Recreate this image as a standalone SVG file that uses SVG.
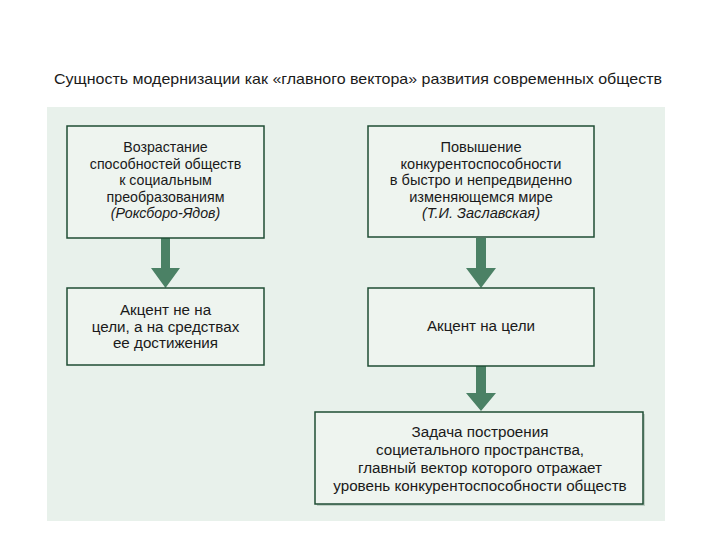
<svg xmlns="http://www.w3.org/2000/svg" width="720" height="540" viewBox="0 0 720 540">
<style>
.t{font-family:"Liberation Sans",Arial,sans-serif;font-size:14.2px;fill:#1a1a1a;text-anchor:middle}
.b2 .t{font-size:14.6px}
.b3 .t{font-size:15.2px}
.i{font-style:italic}
.box{fill:#eef4ef;stroke:#1f4d35;stroke-width:1.5}
.arr{fill:#4b8165}
</style>
<rect width="720" height="540" fill="#ffffff"/>
<text x="358" y="84" font-family="Liberation Sans,Arial,sans-serif" font-size="14.5" fill="#1a1a1a" text-anchor="middle" textLength="608" lengthAdjust="spacingAndGlyphs">Сущность модернизации как «главного вектора» развития современных обществ</text>
<rect x="47" y="107" width="618" height="414" fill="#e8f1eb"/>
<g id="connectors">
<path class="arr" d="M161,238 H170 V268 H180 L165.5,288 L151,268 H161 Z"/>
<path class="arr" d="M476,238 H486 V268 H496 L481,288 L466,268 H476 Z"/>
<path class="arr" d="M476,366 H486 V393 H496 L481,411 L466,393 H476 Z"/>
</g>
<g id="box1">
<rect class="box" x="67" y="126" width="197" height="112"/>
<text class="t" x="165.5" y="152">Возрастание</text>
<text class="t" x="165.5" y="168.5">способностей обществ</text>
<text class="t" x="165.5" y="185">к социальным</text>
<text class="t" x="165.5" y="201.5">преобразованиям</text>
<text class="t i" x="165.5" y="218">(Роксборо-Ядов)</text>
</g>
<g id="box2" class="b2">
<rect class="box" x="368" y="126" width="226" height="111"/>
<text class="t" x="481" y="152">Повышение</text>
<text class="t" x="481" y="168.5">конкурентоспособности</text>
<text class="t" x="481" y="185">в быстро и непредвиденно</text>
<text class="t" x="481" y="201.5">изменяющемся мире</text>
<text class="t i" x="481" y="218">(Т.И. Заславская)</text>
</g>
<g id="box3" class="b3">
<rect class="box" x="67" y="288" width="197" height="77"/>
<text class="t" x="165.5" y="315">Акцент не на</text>
<text class="t" x="165.5" y="331.5">цели, а на средствах</text>
<text class="t" x="165.5" y="348">ее достижения</text>
</g>
<g id="box4" class="b3">
<rect class="box" x="368" y="288" width="226" height="78"/>
<text class="t" x="481" y="331">Акцент на цели</text>
</g>
<g id="box5" class="b3">
<rect x="317" y="414" width="328" height="92" fill="#bfcfc4"/>
<rect class="box" x="315" y="412" width="328" height="92"/>
<text class="t" x="480" y="437">Задача построения</text>
<text class="t" x="480" y="455">социетального пространства,</text>
<text class="t" x="480" y="473">главный вектор которого отражает</text>
<text class="t" x="480" y="490.5">уровень конкурентоспособности обществ</text>
</g>
</svg>
